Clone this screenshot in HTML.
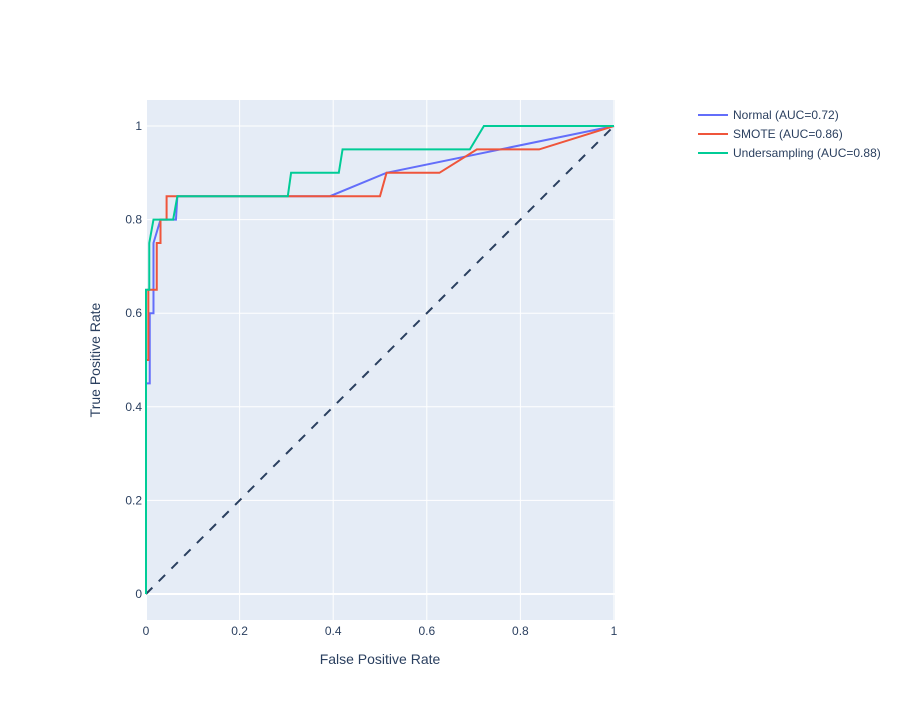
<!DOCTYPE html>
<html><head><meta charset="utf-8"><style>
body{margin:0;background:#fff;font-family:"Liberation Sans",Arial,sans-serif;}
svg text{font-family:"Liberation Sans",Arial,sans-serif;fill:#2a3f5f;}
</style></head><body>
<svg id="chart" width="900" height="700">
<rect x="146" y="100" width="469" height="520" fill="#e5ecf6"/>
<g id="grid"></g><g id="marks"></g><g id="axes"></g>
<text x="380" y="664" text-anchor="middle" font-size="14">False Positive Rate</text>
<text transform="translate(100,360) rotate(-90)" text-anchor="middle" font-size="14">True Positive Rate</text>
<g id="legend"></g>
</svg>
<script>
const xTicks=[0,0.2,0.4,0.6,0.8,1];
const yTicks=[0,0.2,0.4,0.6,0.8,1];
const tickLabels=["0","0.2","0.4","0.6","0.8","1"];
const seriesNames=["Normal (AUC=0.72)","SMOTE (AUC=0.86)","Undersampling (AUC=0.88)"];
const seriesColors=["#636efa","#EF553B","#00cc96"];
const normalFpr=[0,0,0.008,0.008,0.016,0.016,0.031,0.064,0.067,0.393,0.514,1];
const normalTpr=[0,0.45,0.45,0.6,0.6,0.75,0.8,0.8,0.85,0.85,0.9,1];
const smoteFpr=[0,0,0.005,0.005,0.023,0.023,0.031,0.031,0.044,0.044,0.5,0.514,0.627,0.707,0.84,1];
const smoteTpr=[0,0.5,0.5,0.65,0.65,0.75,0.75,0.8,0.8,0.85,0.85,0.9,0.9,0.95,0.95,1];
const underFpr=[0,0,0.007,0.007,0.016,0.058,0.067,0.303,0.31,0.412,0.42,0.692,0.722,1];
const underTpr=[0,0.65,0.65,0.75,0.8,0.8,0.85,0.85,0.9,0.9,0.95,0.95,1,1];
const NS="http://www.w3.org/2000/svg";
const X=v=>146+v*468, Y=v=>594-v*468;
function mk(tag,attrs,parent){const e=document.createElementNS(NS,tag);for(const k in attrs)e.setAttribute(k,attrs[k]);parent.appendChild(e);return e;}
const grid=document.getElementById('grid'),axes=document.getElementById('axes'),marks=document.getElementById('marks'),legend=document.getElementById('legend');
xTicks.forEach((t,i)=>{
 const l=mk('line',{x1:X(t),x2:X(t),y1:100,y2:620,stroke:'#fff','stroke-width':t===0?2:1},grid);
 
 
 const tx=mk('text',{x:X(t),y:635,'text-anchor':'middle','font-size':12},axes);tx.textContent=tickLabels[i];
 
 
});
yTicks.forEach((t,i)=>{
 const l=mk('line',{x1:146,x2:615,y1:Y(t),y2:Y(t),stroke:'#fff','stroke-width':t===0?2:1},grid);
 
 
 const tx=mk('text',{x:142,y:Y(t)+4,'text-anchor':'end','font-size':12},axes);tx.textContent=tickLabels[i];
 
 
});
const d=mk('line',{x1:X(0),y1:Y(0),x2:X(1),y2:Y(1),stroke:'#2a3f5f','stroke-width':2,'stroke-dasharray':'9,9'},marks);


const series=[[normalFpr,normalTpr],[smoteFpr,smoteTpr],[underFpr,underTpr]];
const names=['normal-roc-line','smote-roc-line','undersampling-roc-line'];
series.forEach((s,i)=>{
 const pts=s[0].map((x,j)=>X(x)+','+Y(s[1][j])).join(' ');
 const p=mk('polyline',{points:pts,fill:'none',stroke:seriesColors[i],'stroke-width':2},marks);
 
 
 const g=mk('g',{},legend);
 
 
 const y=115+i*19;
 mk('line',{x1:698,x2:728,y1:y,y2:y,stroke:seriesColors[i],'stroke-width':2},g);
 const t=mk('text',{x:733,y:y+4,'font-size':12},g);t.textContent=seriesNames[i];
});
</script>
</body></html>
